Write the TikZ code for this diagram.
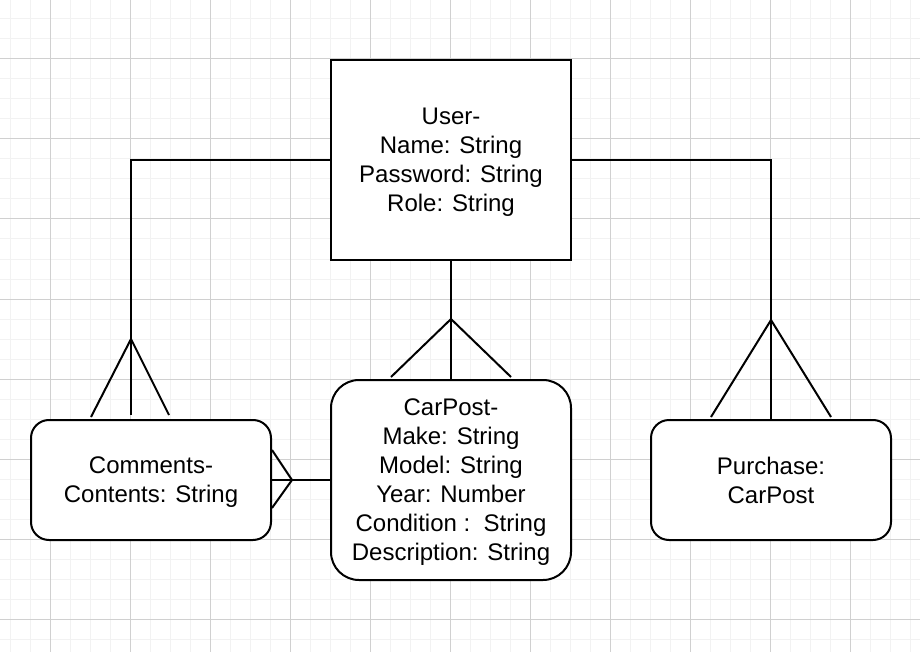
\documentclass[tikz,border=0pt]{standalone}
\usepackage{fontspec}
\setmainfont{Liberation Sans}
\usepackage{tikz}
\usetikzlibrary{positioning, calc}

\begin{document}
\begin{tikzpicture}[
    x=1pt, y=-1pt,
    entity/.style={draw, fill=white, line width=2pt, minimum width=240pt,
                   align=center, text depth=0pt, font=\fontsize{24}{29}\selectfont},
    plainbox/.style={entity, minimum height=200pt},
    roundbox/.style={entity, rounded corners=18pt, minimum height=120pt},
    bigroundbox/.style={entity, rounded corners=28pt, minimum height=200pt},
    link/.style={line width=2pt},
    minorgrid/.style={draw=gray!10, line width=1pt},
    majorgrid/.style={draw=gray!37, line width=1pt},
]
  \useasboundingbox (0,0) rectangle (920,652);
  \fill[white] (0,0) rectangle (920,652);

  % grid
  \foreach \gx in {10,30,...,910}
    \draw[minorgrid] (\gx,0) -- (\gx,652);
  \foreach \gy in {19,39,...,639}
    \draw[minorgrid] (0,\gy) -- (920,\gy);
  \foreach \gx in {50,130,...,850}
    \draw[majorgrid] (\gx,0) -- (\gx,652);
  \foreach \gy in {59,139,...,619}
    \draw[majorgrid] (0,\gy) -- (920,\gy);

  % entities
  \node[plainbox] (user) at (451, 160)
    {User-\\Name: String\\Password: String\\Role: String};
  \node[bigroundbox] (carpost) at (451, 480)
    {CarPost-\\Make: String\\Model: String\\Year: Number\\Condition :~~String\\Description: String};
  \node[roundbox] (comments) at (151, 480)
    {Comments-\\Contents: String};
  \node[roundbox] (purchase) at (771, 480)
    {Purchase:\\CarPost};

  % user -> comments
  \coordinate (cmtTop) at ($(comments.north)+(-20,-4)$);
  \coordinate (cmtFoot) at ($(cmtTop)+(0,-76)$);
  \draw[link] (user.west) -| (cmtTop);
  \draw[link] ($(cmtFoot)+(-40,78)$) -- (cmtFoot) -- ($(cmtFoot)+(38,76)$);

  % user -> carpost
  \coordinate (carFoot) at ($(carpost.north)+(0,-60)$);
  \draw[link] (user.south) -- (carpost.north);
  \draw[link] ($(carFoot)+(-60,58)$) -- (carFoot) -- ($(carFoot)+(60,58)$);

  % user -> purchase
  \coordinate (buyFoot) at ($(purchase.north)+(0,-99)$);
  \draw[link] (user.east) -| (purchase.north);
  \draw[link] ($(buyFoot)+(-60,97)$) -- (buyFoot) -- ($(buyFoot)+(60,97)$);

  % carpost -> comments
  \coordinate (sideFoot) at ($(comments.east)+(20,0)$);
  \draw[link] (comments.east) -- (carpost.west);
  \draw[link] ($(comments.east)+(0,-30)$) -- (sideFoot) -- ($(comments.east)+(0,28)$);
\end{tikzpicture}
\end{document}
